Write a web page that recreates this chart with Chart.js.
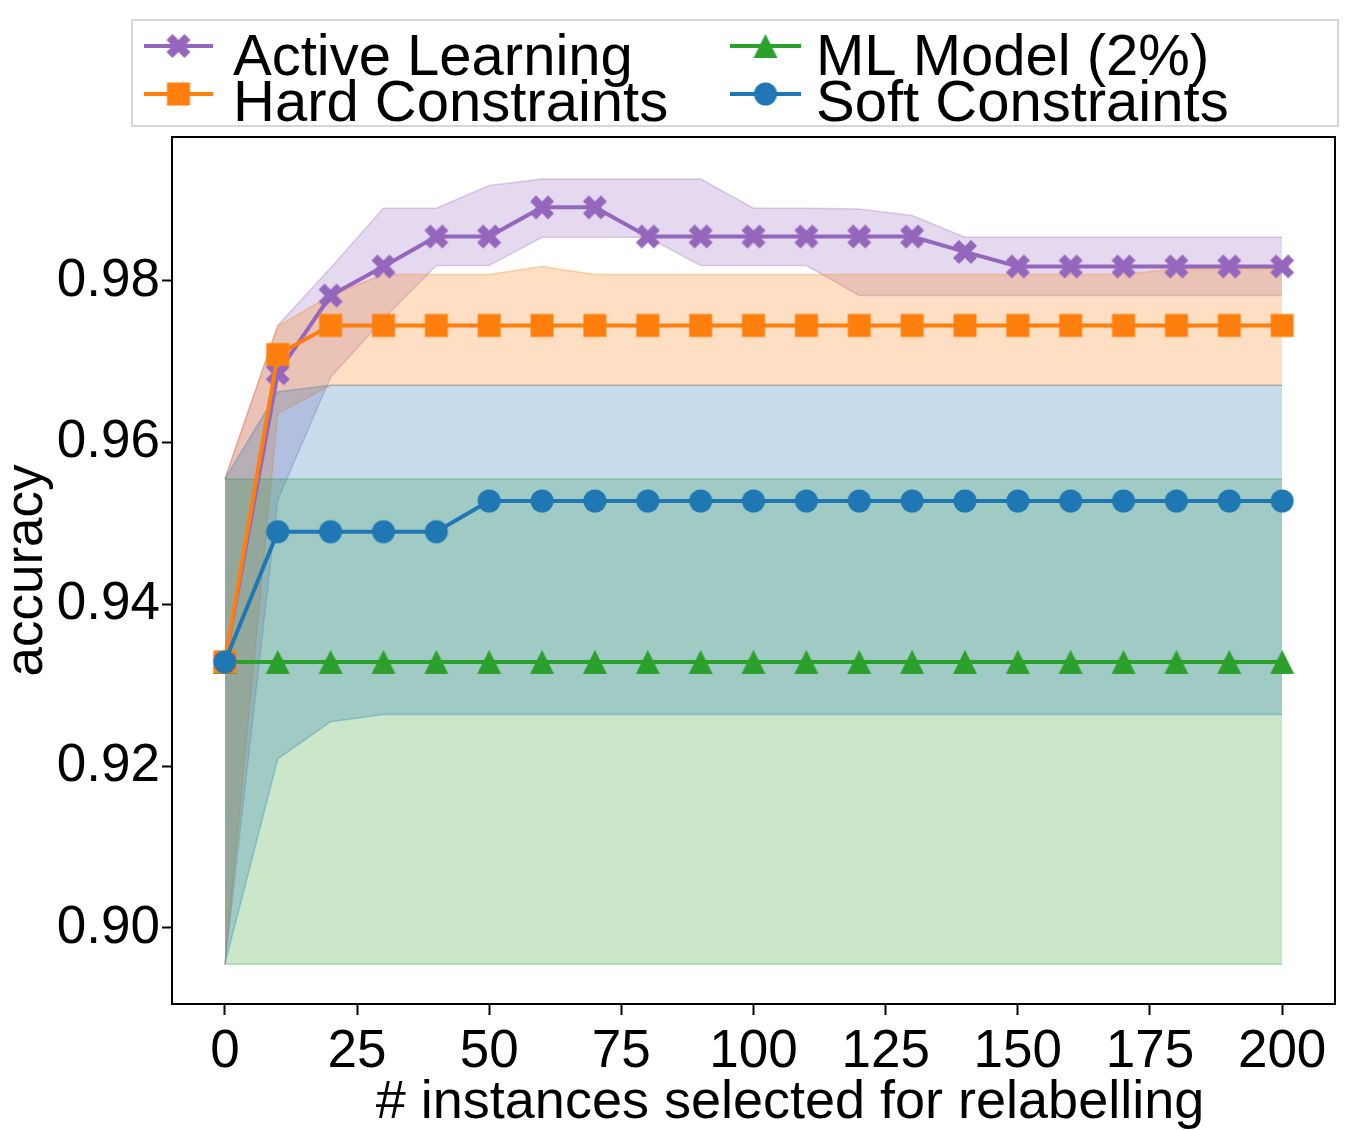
<!DOCTYPE html>
<html>
<head>
<meta charset="utf-8">
<title>Accuracy vs relabelled instances</title>
<script src="https://cdn.jsdelivr.net/npm/chart.js@4.4.1/dist/chart.umd.min.js"></script>
<style>
  html, body { margin: 0; padding: 0; background: #fff; }
  canvas { display: block; }
</style>
</head>
<body>
<canvas id="accChart" width="1365" height="1130"></canvas>
<script>
// number of instances selected for relabelling (x axis)
const instances = [0, 10, 20, 30, 40, 50, 60, 70, 80, 90, 100, 110, 120, 130, 140, 150, 160, 170, 180, 190, 200];

// Active Learning: mean and band
const activeMean = [0.9329, 0.9686, 0.9782, 0.9818, 0.9855, 0.9855, 0.9891, 0.9891, 0.9855, 0.9855, 0.9855,
                    0.9855, 0.9855, 0.9855, 0.9836, 0.9818, 0.9818, 0.9818, 0.9818, 0.9818, 0.9818];
const activeHigh = [0.9555, 0.9745, 0.9816, 0.9890, 0.9890, 0.9918, 0.9926, 0.9926, 0.9926, 0.9926, 0.9890,
                    0.9890, 0.9889, 0.9881, 0.9854, 0.9854, 0.9854, 0.9854, 0.9854, 0.9854, 0.9854];
const activeLow  = [0.8955, 0.9529, 0.9681, 0.9753, 0.9819, 0.9819, 0.9854, 0.9854, 0.9854, 0.9819, 0.9819,
                    0.9819, 0.9782, 0.9782, 0.9782, 0.9782, 0.9782, 0.9782, 0.9782, 0.9782, 0.9782];

// Hard Constraints
const hardMean = [0.9329, 0.9709, 0.9745, 0.9745, 0.9745, 0.9745, 0.9745, 0.9745, 0.9745, 0.9745, 0.9745,
                  0.9745, 0.9745, 0.9745, 0.9745, 0.9745, 0.9745, 0.9745, 0.9745, 0.9745, 0.9745];
const hardHigh = [0.9555, 0.9744, 0.9782, 0.9808, 0.9808, 0.9808, 0.9818, 0.9808, 0.9808, 0.9808, 0.9808,
                  0.9808, 0.9808, 0.9808, 0.9808, 0.9808, 0.9808, 0.9808, 0.9815, 0.9815, 0.9815];
const hardLow  = [0.8955, 0.9636, 0.9671, 0.9671, 0.9671, 0.9671, 0.9671, 0.9671, 0.9671, 0.9671, 0.9671,
                  0.9671, 0.9671, 0.9671, 0.9671, 0.9671, 0.9671, 0.9671, 0.9671, 0.9671, 0.9671];

// ML Model (2%)
const mlMean = [0.9329, 0.9329, 0.9329, 0.9329, 0.9329, 0.9329, 0.9329, 0.9329, 0.9329, 0.9329, 0.9329,
                0.9329, 0.9329, 0.9329, 0.9329, 0.9329, 0.9329, 0.9329, 0.9329, 0.9329, 0.9329];
const mlHigh = [0.9555, 0.9555, 0.9555, 0.9555, 0.9555, 0.9555, 0.9555, 0.9555, 0.9555, 0.9555, 0.9555,
                0.9555, 0.9555, 0.9555, 0.9555, 0.9555, 0.9555, 0.9555, 0.9555, 0.9555, 0.9555];
const mlLow  = [0.8955, 0.8955, 0.8955, 0.8955, 0.8955, 0.8955, 0.8955, 0.8955, 0.8955, 0.8955, 0.8955,
                0.8955, 0.8955, 0.8955, 0.8955, 0.8955, 0.8955, 0.8955, 0.8955, 0.8955, 0.8955];

// Soft Constraints
const softMean = [0.9329, 0.9490, 0.9490, 0.9490, 0.9490, 0.9528, 0.9528, 0.9528, 0.9528, 0.9528, 0.9528,
                  0.9528, 0.9528, 0.9528, 0.9528, 0.9528, 0.9528, 0.9528, 0.9528, 0.9528, 0.9528];
const softHigh = [0.9555, 0.9663, 0.9671, 0.9671, 0.9671, 0.9671, 0.9671, 0.9671, 0.9671, 0.9671, 0.9671,
                  0.9671, 0.9671, 0.9671, 0.9671, 0.9671, 0.9671, 0.9671, 0.9671, 0.9671, 0.9671];
const softLow  = [0.8955, 0.9209, 0.9255, 0.9264, 0.9264, 0.9264, 0.9264, 0.9264, 0.9264, 0.9264, 0.9264,
                  0.9264, 0.9264, 0.9264, 0.9264, 0.9264, 0.9264, 0.9264, 0.9264, 0.9264, 0.9264];

// tick labels
const xTickValues = [0, 25, 50, 75, 100, 125, 150, 175, 200];
const yTickValues = [0.90, 0.92, 0.94, 0.96, 0.98];

const FONT = '"Liberation Sans", Arial, Helvetica, sans-serif';
const PURPLE = '#9467bd', ORANGE = '#ff7f0e', GREEN = '#2ca02c', BLUE = '#1f77b4';

function alpha(hex, a) {
    const n = parseInt(hex.slice(1), 16);
    return 'rgba(' + (n >> 16) + ',' + ((n >> 8) & 255) + ',' + (n & 255) + ',' + a + ')';
}

// marker shapes (matplotlib-like), drawn into small canvases used as pointStyle
function makeMarker(shape, color, size) {
    const c = document.createElement('canvas');
    c.width = 30; c.height = 30;
    const g = c.getContext('2d');
    const h = size / 2;
    g.translate(15, 15);
    g.fillStyle = color;
    g.beginPath();
    if (shape === 'x') {
        const pts = [[0.25, 0], [0.5, 0.25], [0.25, 0.5], [0, 0.25], [-0.25, 0.5], [-0.5, 0.25],
                     [-0.25, 0], [-0.5, -0.25], [-0.25, -0.5], [0, -0.25], [0.25, -0.5], [0.5, -0.25]];
        pts.forEach((p, i) => {
            if (i === 0) g.moveTo(p[0] * size, p[1] * size);
            else g.lineTo(p[0] * size, p[1] * size);
        });
    } else if (shape === 'square') {
        g.rect(-h, -h, size, size);
    } else if (shape === 'triangle') {
        g.moveTo(0, -h);
        g.lineTo(h, h);
        g.lineTo(-h, h);
    } else {
        g.arc(0, 0, h, 0, Math.PI * 2);
    }
    g.closePath();
    g.fill();
    return c;
}

const series = [
    { label: 'Active Learning', color: PURPLE, marker: makeMarker('x', PURPLE, 24), mean: activeMean, low: activeLow, high: activeHigh, order: 3 },
    { label: 'Hard Constraints', color: ORANGE, marker: makeMarker('square', ORANGE, 23), mean: hardMean, low: hardLow, high: hardHigh, order: 1 },
    { label: 'ML Model (2%)', color: GREEN, marker: makeMarker('triangle', GREEN, 24), mean: mlMean, low: mlLow, high: mlHigh, order: 2 },
    { label: 'Soft Constraints', color: BLUE, marker: makeMarker('circle', BLUE, 23), mean: softMean, low: softLow, high: softHigh, order: 0 }
];

const toPoints = ys => instances.map((x, i) => ({ x: x, y: ys[i] }));

// build datasets: a filled band (upper -> lower) and a mean line per series
const datasets = [];
series.forEach((s, k) => {
    datasets.push({
        label: s.label + ' upper',
        data: toPoints(s.high),
        borderColor: alpha(s.color, 0.3),
        borderWidth: 1.5,
        backgroundColor: alpha(s.color, 0.25),
        pointRadius: 0,
        fill: '+1',
        order: 20 - k * 2
    });
    datasets.push({
        label: s.label + ' lower',
        data: toPoints(s.low),
        borderColor: alpha(s.color, 0.3),
        borderWidth: 1.5,
        pointRadius: 0,
        fill: false,
        order: 19 - k * 2
    });
});
series.forEach(s => {
    datasets.push({
        label: s.label,
        data: toPoints(s.mean),
        borderColor: s.color,
        backgroundColor: s.color,
        borderWidth: 4,
        pointStyle: s.marker,
        pointRadius: 12,
        fill: false,
        order: s.order
    });
});

// frame around the plot area
const framePlugin = {
    id: 'frame',
    afterDatasetsDraw(chart) {
        const { ctx, chartArea: a } = chart;
        ctx.save();
        ctx.strokeStyle = '#000';
        ctx.lineWidth = 2;
        ctx.strokeRect(a.left, a.top, a.right - a.left, a.bottom - a.top);
        ctx.restore();
    }
};

// two-column legend with line + marker handles, like the original
const legendPlugin = {
    id: 'lineLegend',
    afterDraw(chart) {
        const ctx = chart.ctx;
        ctx.save();
        ctx.fillStyle = '#fff';
        ctx.fillRect(132, 20, 1206, 106);
        ctx.strokeStyle = '#d6d6d6';
        ctx.lineWidth = 2;
        ctx.strokeRect(132, 20, 1206, 106);
        const slots = [
            { s: series[0], x1: 144, x2: 213, tx: 233, hy: 46, ty: 75 },
            { s: series[1], x1: 144, x2: 213, tx: 233, hy: 94, ty: 121 },
            { s: series[2], x1: 730, x2: 801, tx: 816, hy: 46, ty: 75 },
            { s: series[3], x1: 730, x2: 801, tx: 816, hy: 94, ty: 121 }
        ];
        slots.forEach(p => {
            ctx.strokeStyle = p.s.color;
            ctx.lineWidth = 4;
            ctx.beginPath();
            ctx.moveTo(p.x1, p.hy);
            ctx.lineTo(p.x2, p.hy);
            ctx.stroke();
            const m = p.s.marker;
            ctx.drawImage(m, (p.x1 + p.x2) / 2 - m.width / 2, p.hy - m.height / 2);
            ctx.fillStyle = '#000';
            ctx.font = '58px ' + FONT;
            ctx.textBaseline = 'alphabetic';
            ctx.textAlign = 'left';
            ctx.fillText(p.s.label, p.tx, p.ty);
        });
        ctx.restore();
    }
};

// x axis title sits a little right of the axis centre in the original
const xTitlePlugin = {
    id: 'xTitle',
    afterDraw(chart) {
        const ctx = chart.ctx;
        ctx.save();
        ctx.fillStyle = '#000';
        ctx.font = '54px ' + FONT;
        ctx.textAlign = 'center';
        ctx.textBaseline = 'alphabetic';
        ctx.fillText('# instances selected for relabelling', 790, 1118);
        ctx.restore();
    }
};

new Chart(document.getElementById('accChart'), {
    type: 'line',
    data: { datasets: datasets },
    options: {
        responsive: false,
        animation: false,
        devicePixelRatio: 1,
        layout: { padding: { top: 137, right: 30, left: 0, bottom: 0 } },
        elements: { line: { tension: 0 } },
        plugins: {
            legend: { display: false },
            tooltip: { enabled: false }
        },
        scales: {
            x: {
                type: 'linear',
                min: -10,
                max: 210,
                afterBuildTicks: s => { s.ticks = xTickValues.map(v => ({ value: v })); },
                afterFit: s => { s.height = 126; s.paddingLeft = 0; s.paddingRight = 0; },
                grid: { drawOnChartArea: false, tickLength: 11, tickWidth: 2, tickColor: '#000' },
                border: { color: '#000', width: 2 },
                ticks: {
                    color: '#000',
                    font: { family: FONT, size: 53 },
                    padding: 6,
                    maxRotation: 0,
                    autoSkip: false
                }
            },
            y: {
                type: 'linear',
                min: 0.8906,
                max: 0.9978,
                afterBuildTicks: s => { s.ticks = yTickValues.map(v => ({ value: v })); },
                afterFit: s => { s.width = 172; s.paddingTop = 0; s.paddingBottom = 0; },
                grid: { drawOnChartArea: false, tickLength: 10, tickWidth: 2, tickColor: '#000' },
                border: { color: '#000', width: 2 },
                ticks: {
                    color: '#000',
                    font: { family: FONT, size: 53 },
                    padding: 2,
                    autoSkip: false,
                    callback: v => v.toFixed(2)
                },
                title: {
                    display: true,
                    text: 'accuracy',
                    color: '#000',
                    font: { family: FONT, size: 53, lineHeight: 1 },
                    padding: { top: 1, bottom: 0 }
                }
            }
        }
    },
    plugins: [framePlugin, legendPlugin, xTitlePlugin]
});
</script>
</body>
</html>
